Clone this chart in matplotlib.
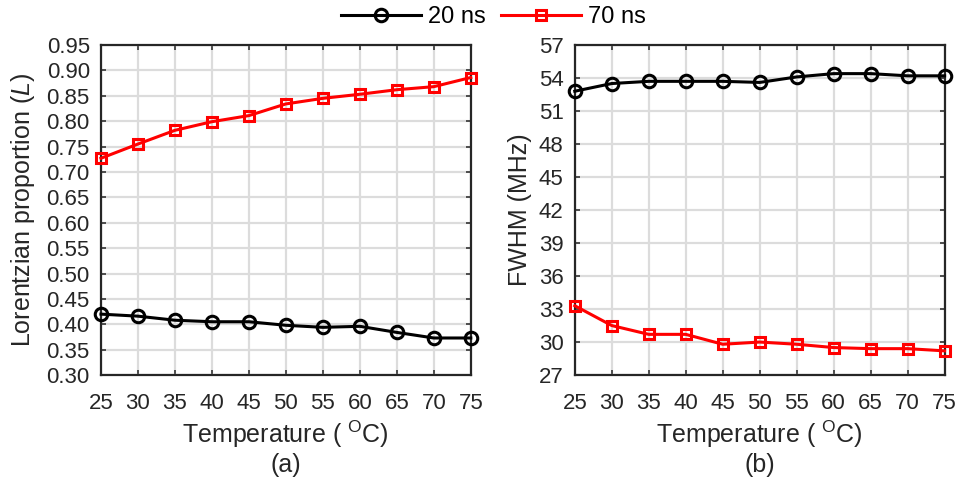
import matplotlib
matplotlib.use('Agg')
import matplotlib.pyplot as plt

plt.rcParams['font.family'] = ['Liberation Sans', 'DejaVu Sans']
plt.rcParams['mathtext.fontset'] = 'custom'
plt.rcParams['mathtext.rm'] = 'Liberation Sans'
plt.rcParams['mathtext.it'] = 'Liberation Sans:italic'

temperature = [25, 30, 35, 40, 45, 50, 55, 60, 65, 70, 75]

# (a) Lorentzian proportion
lor_20ns = [0.420, 0.416, 0.408, 0.405, 0.405, 0.398, 0.394, 0.396, 0.384, 0.373, 0.373]
lor_70ns = [0.727, 0.755, 0.782, 0.799, 0.811, 0.834, 0.845, 0.853, 0.862, 0.868, 0.886]

# (b) FWHM in MHz
fwhm_20ns = [52.8, 53.5, 53.7, 53.7, 53.7, 53.6, 54.1, 54.4, 54.4, 54.2, 54.2]
fwhm_70ns = [33.3, 31.5, 30.7, 30.7, 29.8, 30.0, 29.8, 29.5, 29.4, 29.4, 29.2]

lor_ticks = [0.30 + 0.05 * i for i in range(14)]
fwhm_ticks = list(range(27, 58, 3))

fig = plt.figure(figsize=(9.58, 4.79), dpi=100)
ax1 = fig.add_axes([0.1054, 0.217, 0.386, 0.689])
ax2 = fig.add_axes([0.600, 0.217, 0.386, 0.689])

tick_fs = 16
label_fs = 18
ink = '#262626'
xlabel = r'Temperature ( $^\mathregular{O}$C)'

for ax, y20, y70, tag in [(ax1, lor_20ns, lor_70ns, '(a)'),
                          (ax2, fwhm_20ns, fwhm_70ns, '(b)')]:
    l1, = ax.plot(temperature, y20, color='black', lw=2.2, marker='o', ms=9,
                  mfc='none', mew=2.2, label='20 ns', clip_on=False, zorder=3)
    l2, = ax.plot(temperature, y70, color='red', lw=2.2, marker='s', ms=7.5,
                  mfc='none', mew=2.2, label='70 ns', clip_on=False, zorder=3)
    ax.set_xlim(25, 75)
    ax.set_xticks(temperature)
    ax.grid(True, color='#dcdcdc', lw=1.6)
    ax.set_axisbelow(True)
    ax.tick_params(direction='in', top=True, right=True, labelsize=tick_fs,
                   colors=ink, width=1.1, length=3.5)
    ax.tick_params(axis='x', pad=13)
    ax.tick_params(axis='y', pad=8)
    for s in ax.spines.values():
        s.set_color(ink)
        s.set_linewidth(1.6)
    ax.set_xlabel(xlabel, fontsize=label_fs, color=ink)
    ax.xaxis.label.set_va('baseline')
    ax.xaxis.set_label_coords(0.5, -0.206)
    ax.text(0.5, -0.295, tag, transform=ax.transAxes, ha='center',
            va='baseline', fontsize=label_fs, color=ink)

ax1.set_ylim(0.30, 0.95)
ax1.set_yticks(lor_ticks)
ax1.set_yticklabels(['%.2f' % t for t in lor_ticks])
ax1.set_ylabel(r'Lorentzian proportion ($\mathit{L}$)', fontsize=label_fs, color=ink)
ax1.yaxis.set_label_coords(-0.173, 0.5)

ax2.set_ylim(27, 57)
ax2.set_yticks(fwhm_ticks)
ax2.set_ylabel('FWHM (MHz)', fontsize=label_fs, color=ink)
ax2.yaxis.set_label_coords(-0.117, 0.5)

fig.legend(handles=[l1, l2], loc='center', bbox_to_anchor=(0.515, 1 - 17 / 479),
           ncol=2, frameon=False, fontsize=17, handlelength=3.4,
           handletextpad=0.3, columnspacing=0.65, borderpad=0.1)

fig.savefig('out.png', dpi=100)
